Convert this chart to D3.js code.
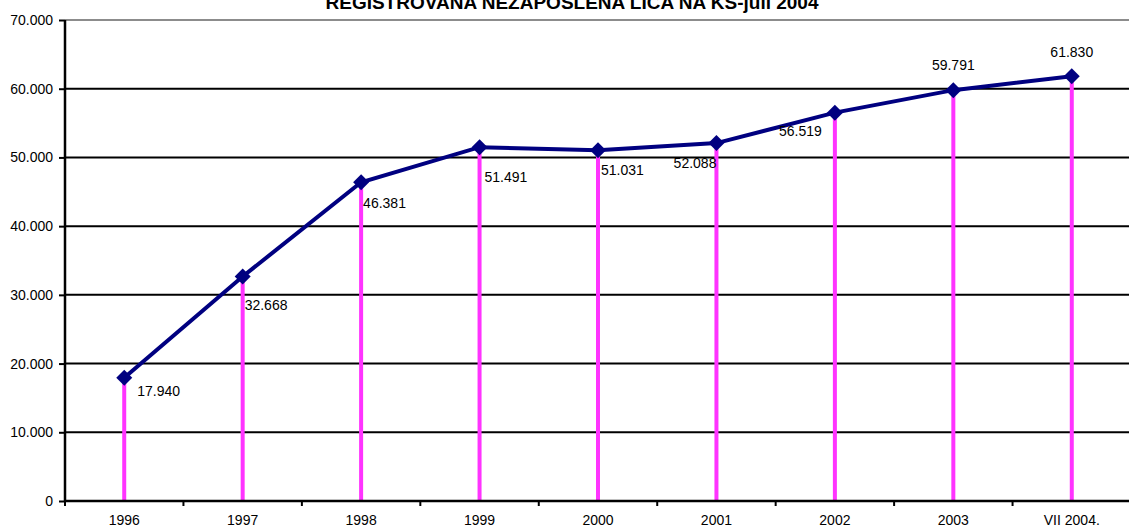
<!DOCTYPE html>
<html>
<head>
<meta charset="utf-8">
<script src="https://cdn.jsdelivr.net/npm/d3@7"></script>
<style>
  body { margin: 0; background: #fff; }
  svg text { font-family: Arial, "Liberation Sans", sans-serif; fill: #000; }
</style>
</head>
<body>
<div class="chart"></div>
<script>
const categories = ['1996', '1997', '1998', '1999', '2000', '2001', '2002', '2003', 'VII 2004.'];
const values = [17940, 32668, 46381, 51491, 51031, 52088, 56519, 59791, 61830];
const valueLabels = ['17.940', '32.668', '46.381', '51.491', '51.031', '52.088', '56.519', '59.791', '61.830'];
const yTicks = [0, 10000, 20000, 30000, 40000, 50000, 60000, 70000];
const yTickLabels = ['0', '10.000', '20.000', '30.000', '40.000', '50.000', '60.000', '70.000'];

// hand-placed label offsets, as in the original
const labelPlace = [
  { dx: 13, dy: 18, anchor: 'start' },
  { dx: 2, dy: 33, anchor: 'start' },
  { dx: 2, dy: 26, anchor: 'start' },
  { dx: 5, dy: 35, anchor: 'start' },
  { dx: 3, dy: 25, anchor: 'start' },
  { dx: 0, dy: 25, anchor: 'end' },
  { dx: -13, dy: 23, anchor: 'end' },
  { dx: 0, dy: -20, anchor: 'middle' },
  { dx: 0, dy: -19, anchor: 'middle' }
];

const w = 1129;
const h = 530;
const padding = { top: 20, right: -2, bottom: 29, left: 65 };
const fontSize = '14px';

const svg = d3.select('.chart')
  .append('svg')
  .attr('width', w)
  .attr('height', h);

const xScale = d3.scaleBand()
  .domain(categories)
  .range([padding.left, w - padding.right]);
const yScale = d3.scaleLinear()
  .domain([0, 70000])
  .range([h - padding.bottom, padding.top]);

// gridlines
svg.append('g')
  .selectAll('line')
  .data(yTicks.slice(1))
  .enter()
  .append('line')
  .attr('x1', padding.left)
  .attr('x2', w)
  .attr('y1', (d) => yScale(d))
  .attr('y2', (d) => yScale(d))
  .attr('stroke', (d) => d === 70000 ? '#8c8c8c' : '#000')
  .attr('stroke-width', 2);

// title
svg.append('text')
  .attr('x', 572)
  .attr('y', 9)
  .attr('text-anchor', 'middle')
  .attr('font-size', '19px')
  .attr('font-weight', 'bold')
  .text('REGISTROVANA NEZAPOSLENA LICA NA KS-juli 2004');

// drop lines
svg.append('g')
  .selectAll('line')
  .data(values)
  .enter()
  .append('line')
  .attr('x1', (d, i) => xScale(categories[i]) + xScale.bandwidth() / 2)
  .attr('x2', (d, i) => xScale(categories[i]) + xScale.bandwidth() / 2)
  .attr('y1', (d) => yScale(d))
  .attr('y2', yScale(0))
  .attr('stroke', '#ff33ff')
  .attr('stroke-width', 4);

// axes
const yAxis = svg.append('g')
  .attr('class', 'y-axis')
  .attr('transform', `translate(${padding.left}, 0)`)
  .call(d3.axisLeft(yScale).tickValues(yTicks).tickSize(6).tickPadding(6)
    .tickFormat((d, i) => yTickLabels[i]));

const xAxis = svg.append('g')
  .attr('class', 'x-axis')
  .attr('transform', `translate(0, ${yScale(0)})`)
  .call(d3.axisBottom(xScale).tickSize(0).tickPadding(14));

xAxis.selectAll('.tick')
  .append('line')
  .attr('x1', -xScale.bandwidth() / 2)
  .attr('x2', -xScale.bandwidth() / 2)
  .attr('y1', 0)
  .attr('y2', 5)
  .attr('stroke', '#000')
  .attr('stroke-width', 2);

svg.selectAll('.domain').attr('stroke', '#000').attr('stroke-width', 2.5);
svg.selectAll('.y-axis .tick line').attr('stroke-width', 2);
svg.selectAll('.tick text').attr('font-size', fontSize).attr('font-family', 'Arial, "Liberation Sans", sans-serif');
yAxis.select('.domain').attr('d', `M-0,${yScale(0)}V${yScale(70000)}`);
xAxis.select('.domain').attr('d', `M${padding.left},0H${w}`);

// line
const line = d3.line()
  .x((d, i) => xScale(categories[i]) + xScale.bandwidth() / 2)
  .y((d) => yScale(d));

svg.append('path')
  .datum(values)
  .attr('d', line)
  .attr('fill', 'none')
  .attr('stroke', '#000080')
  .attr('stroke-width', 4);

svg.append('g')
  .selectAll('path')
  .data(values)
  .enter()
  .append('path')
  .attr('d', d3.symbol().type(d3.symbolSquare).size(128))
  .attr('transform', (d, i) => `translate(${xScale(categories[i]) + xScale.bandwidth() / 2}, ${yScale(d)}) rotate(45)`)
  .attr('fill', '#000080');

// value labels
svg.append('g')
  .selectAll('text')
  .data(values)
  .enter()
  .append('text')
  .attr('x', (d, i) => xScale(categories[i]) + xScale.bandwidth() / 2 + labelPlace[i].dx)
  .attr('y', (d, i) => yScale(d) + labelPlace[i].dy)
  .attr('text-anchor', (d, i) => labelPlace[i].anchor)
  .attr('font-size', fontSize)
  .text((d, i) => valueLabels[i]);
</script>
</body>
</html>
